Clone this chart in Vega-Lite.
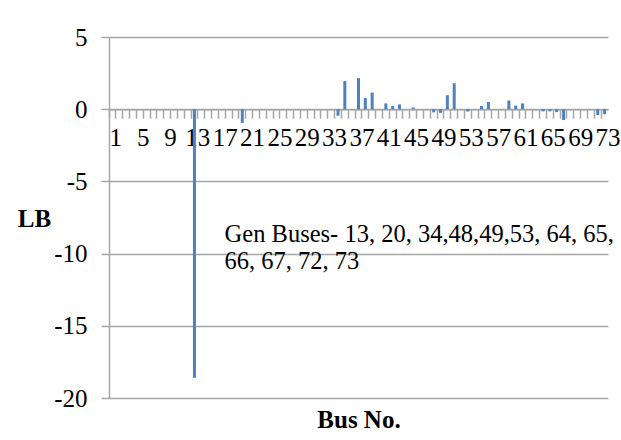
{
  "$schema": "https://vega.github.io/schema/vega-lite/v6.json",
  "width": 499,
  "height": 361,
  "autosize": {"type": "none"},
  "padding": {"left": 109, "top": 37, "right": 13, "bottom": 42},
  "background": "white",
  "config": {"view": {"stroke": null}, "font": "Liberation Serif"},
  "data": {
    "values": [
      {"bus": 1, "lb": 0}, {"bus": 2, "lb": 0}, {"bus": 3, "lb": 0}, {"bus": 4, "lb": 0},
      {"bus": 5, "lb": 0}, {"bus": 6, "lb": 0}, {"bus": 7, "lb": 0}, {"bus": 8, "lb": 0},
      {"bus": 9, "lb": 0}, {"bus": 10, "lb": 0}, {"bus": 11, "lb": 0}, {"bus": 12, "lb": 0},
      {"bus": 13, "lb": -18.6}, {"bus": 14, "lb": 0}, {"bus": 15, "lb": 0}, {"bus": 16, "lb": 0},
      {"bus": 17, "lb": 0}, {"bus": 18, "lb": 0}, {"bus": 19, "lb": 0}, {"bus": 20, "lb": -0.95},
      {"bus": 21, "lb": 0}, {"bus": 22, "lb": 0}, {"bus": 23, "lb": 0}, {"bus": 24, "lb": 0},
      {"bus": 25, "lb": 0}, {"bus": 26, "lb": 0}, {"bus": 27, "lb": 0}, {"bus": 28, "lb": 0},
      {"bus": 29, "lb": 0}, {"bus": 30, "lb": 0}, {"bus": 31, "lb": 0}, {"bus": 32, "lb": 0},
      {"bus": 33, "lb": 0}, {"bus": 34, "lb": -0.45}, {"bus": 35, "lb": 1.95}, {"bus": 36, "lb": 0},
      {"bus": 37, "lb": 2.15}, {"bus": 38, "lb": 0.78}, {"bus": 39, "lb": 1.15}, {"bus": 40, "lb": 0},
      {"bus": 41, "lb": 0.4}, {"bus": 42, "lb": 0.22}, {"bus": 43, "lb": 0.33}, {"bus": 44, "lb": 0},
      {"bus": 45, "lb": 0.12}, {"bus": 46, "lb": 0}, {"bus": 47, "lb": 0}, {"bus": 48, "lb": -0.22},
      {"bus": 49, "lb": -0.25}, {"bus": 50, "lb": 0.97}, {"bus": 51, "lb": 1.8}, {"bus": 52, "lb": 0},
      {"bus": 53, "lb": -0.16}, {"bus": 54, "lb": 0}, {"bus": 55, "lb": 0.22}, {"bus": 56, "lb": 0.5},
      {"bus": 57, "lb": 0}, {"bus": 58, "lb": 0}, {"bus": 59, "lb": 0.6}, {"bus": 60, "lb": 0.25},
      {"bus": 61, "lb": 0.4}, {"bus": 62, "lb": 0}, {"bus": 63, "lb": 0}, {"bus": 64, "lb": -0.15},
      {"bus": 65, "lb": -0.15}, {"bus": 66, "lb": -0.2}, {"bus": 67, "lb": -0.75}, {"bus": 68, "lb": 0},
      {"bus": 69, "lb": 0}, {"bus": 70, "lb": 0}, {"bus": 71, "lb": 0}, {"bus": 72, "lb": -0.4},
      {"bus": 73, "lb": -0.35}
    ]
  },
  "layer": [
    {
      "mark": {"type": "bar", "color": "#4F81BD", "size": 3},
      "encoding": {
        "x": {
          "field": "bus",
          "type": "ordinal",
          "sort": null,
          "scale": {"paddingInner": 0, "paddingOuter": 0},
          "axis": {
            "orient": "bottom",
            "offset": -288.8,
            "bandPosition": 0,
            "labelOffset": 3.42,
            "labelExpr": "(datum.value - 1) % 4 == 0 ? datum.label : ''",
            "labelAngle": 0,
            "labelFont": "Liberation Serif",
            "labelFontSize": 25,
            "labelColor": "black",
            "labelPadding": 7,
            "labelOverlap": false,
            "labelBound": false,
            "tickSize": 9,
            "tickColor": "#a6a6a6",
            "tickWidth": 1.5,
            "domainColor": "#a6a6a6",
            "domainWidth": 1.5,
            "grid": false,
            "title": "Bus No.",
            "titleFont": "Liberation Serif",
            "titleFontSize": 25,
            "titleFontWeight": "bold",
            "titleColor": "black",
            "titleX": 249.5,
            "titleY": 310,
            "titleAlign": "center",
            "titleBaseline": "middle"
          }
        },
        "y": {
          "field": "lb",
          "type": "quantitative",
          "scale": {"domain": [-20, 5], "nice": false},
          "axis": {
            "values": [-20, -15, -10, -5, 0, 5],
            "labelExpr": "toString(datum.value)",
            "grid": true,
            "gridColor": "#a6a6a6",
            "gridWidth": 1.5,
            "domainColor": "#a6a6a6",
            "domainWidth": 1.5,
            "tickColor": "#a6a6a6",
            "tickWidth": 1.5,
            "tickSize": 8,
            "labelFont": "Liberation Serif",
            "labelFontSize": 25,
            "labelColor": "black",
            "labelPadding": 14,
            "title": "LB",
            "titleAngle": 0,
            "titleFont": "Liberation Serif",
            "titleFontSize": 25,
            "titleFontWeight": "bold",
            "titleColor": "black",
            "titleX": -75,
            "titleY": 181,
            "titleAlign": "center",
            "titleBaseline": "middle"
          }
        }
      }
    },
    {
      "data": {"values": [{"note": ["Gen Buses- 13, 20, 34,48,49,53, 64, 65,", "66, 67, 72, 73"]}]},
      "mark": {
        "type": "text",
        "align": "left",
        "baseline": "alphabetic",
        "font": "Liberation Serif",
        "fontSize": 24.5,
        "lineHeight": 27,
        "color": "black",
        "dx": -4
      },
      "encoding": {
        "x": {"datum": 18, "type": "ordinal"},
        "y": {"datum": -9.18, "type": "quantitative"},
        "text": {"field": "note"}
      }
    }
  ]
}
